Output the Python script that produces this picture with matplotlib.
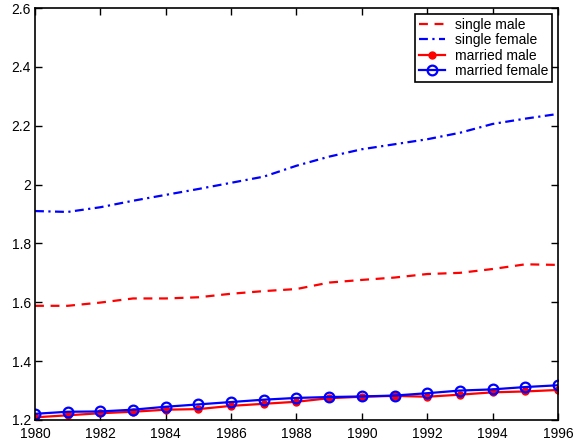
import matplotlib
matplotlib.use("Agg")
import matplotlib.pyplot as plt

years = list(range(1980, 1997))
single_male = [1.588, 1.588, 1.599, 1.613, 1.613, 1.617, 1.629, 1.638, 1.645,
               1.667, 1.676, 1.684, 1.696, 1.700, 1.713, 1.729, 1.727]
single_female = [1.910, 1.907, 1.923, 1.945, 1.965, 1.985, 2.006, 2.027, 2.064,
                 2.095, 2.120, 2.137, 2.154, 2.176, 2.206, 2.224, 2.240]
married_male = [1.209, 1.216, 1.223, 1.228, 1.235, 1.237, 1.248, 1.255, 1.262,
                1.274, 1.279, 1.282, 1.279, 1.286, 1.294, 1.297, 1.302]
married_female = [1.221, 1.228, 1.229, 1.235, 1.245, 1.253, 1.261, 1.269, 1.275,
                  1.278, 1.280, 1.283, 1.291, 1.300, 1.304, 1.312, 1.318]

xticks = list(range(1980, 1997, 2))
yticks = [1.2, 1.4, 1.6, 1.8, 2.0, 2.2, 2.4, 2.6]
ytick_labels = ["1.2", "1.4", "1.6", "1.8", "2", "2.2", "2.4", "2.6"]

plt.rcParams['font.family'] = ['Liberation Sans', 'DejaVu Sans']

fig = plt.figure(figsize=(5.73, 4.42), dpi=100)
ax = fig.add_axes([0.0611, 0.0498, 0.9127, 0.9321])

ax.plot(years, single_male, color='red', linestyle=(0, (4, 3)), lw=1.6, label='single male')
ax.plot(years, single_female, color='blue', linestyle=(0, (4, 2, 1, 2)), lw=1.6, label='single female')
ax.plot(years, married_male, color='red', lw=1.6, marker='o', markersize=5,
        markerfacecolor='red', markeredgecolor='red', label='married male')
ax.plot(years, married_female, color='blue', lw=1.6, marker='o', markersize=7,
        markerfacecolor='none', markeredgecolor='blue', markeredgewidth=1.6, label='married female')

ax.set_xlim(1980, 1996)
ax.set_ylim(1.2, 2.6)
ax.set_xticks(xticks)
ax.set_xticklabels([str(x) for x in xticks])
ax.set_yticks(yticks)
ax.set_yticklabels(ytick_labels)
ax.tick_params(direction='in', top=True, right=True, length=5, width=1, labelsize=10, colors='black')
ax.tick_params(axis='x', pad=5)
ax.tick_params(axis='y', pad=3)
for s in ax.spines.values():
    s.set_linewidth(1.2)
    s.set_color('black')

leg = ax.legend(loc='upper right', fontsize=10, frameon=True, fancybox=False,
                edgecolor='black', framealpha=1, handlelength=1.9, borderpad=0.3,
                labelspacing=0.1, handletextpad=0.7, borderaxespad=0.4)
leg.get_frame().set_linewidth(1.2)

fig.savefig("out.png", dpi=100)
